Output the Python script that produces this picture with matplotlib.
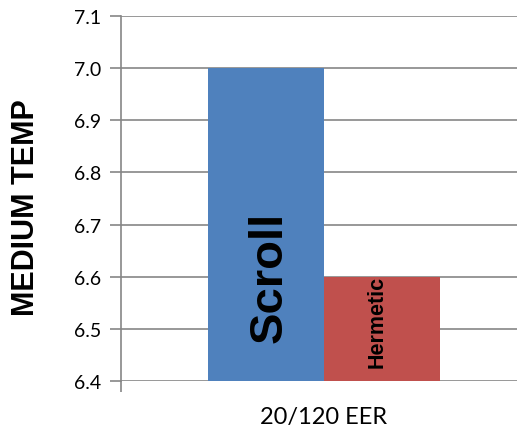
import matplotlib.pyplot as plt

CATEGORY = "20/120 EER"
SERIES   = ["Scroll", "Hermetic"]
VALUES   = [7.0, 6.6]
COLORS   = ["#4F81BD", "#C0504D"]
Y_TICKS  = [6.4, 6.5, 6.6, 6.7, 6.8, 6.9, 7.0, 7.1]

W, H = 517, 431
fig = plt.figure(figsize=(W / 100, H / 100), dpi=100)
ax = fig.add_axes([121 / W, (H - 382) / H, (W - 121) / W, 365 / H])

# one category centred at 0, two bars side by side
bar_w = 0.2857
xs = [-bar_w / 2, bar_w / 2]
ax.bar(xs, [v - Y_TICKS[0] for v in VALUES], bottom=Y_TICKS[0],
       width=bar_w, color=COLORS, zorder=3)

ax.text(xs[0] + 0.01, 6.6, SERIES[0], rotation=90, ha="center", va="center",
        fontsize=34, fontweight="bold", family="Liberation Sans", zorder=4)
ax.text(xs[1] - 0.012, 6.515, SERIES[1], rotation=90, ha="center", va="center",
        fontsize=15.5, fontweight="bold", family="Liberation Sans", zorder=4)

ax.set_xlim(-0.5, (W - 324) / 406)
ax.set_ylim(Y_TICKS[0], Y_TICKS[-1])
ax.set_yticks(Y_TICKS)
ax.set_yticklabels([f"{t:.1f}" for t in Y_TICKS], family="Lato", fontsize=14)
ax.set_xticks([0])
ax.set_xticklabels([CATEGORY], family="Lato", fontsize=17)
ax.tick_params(axis="x", length=0, pad=18)
ax.tick_params(axis="y", length=8, color="#868686", width=1.2, pad=6)
ax.set_xticks([-0.5], minor=True)
ax.tick_params(axis="x", which="minor", length=8, color="#868686", width=1.2)

ax.grid(axis="y", color="#868686", lw=1.2, zorder=0)
for side in ["top", "right", "bottom"]:
    ax.spines[side].set_visible(False)
ax.spines["left"].set_color("#868686")
ax.spines["left"].set_linewidth(1.2)

fig.text(26 / W, 1 - 208 / H, "MEDIUM TEMP", rotation=90, ha="center",
         va="center", family="Liberation Sans", fontweight="bold", fontsize=22)

fig.savefig("out.png", dpi=100)
